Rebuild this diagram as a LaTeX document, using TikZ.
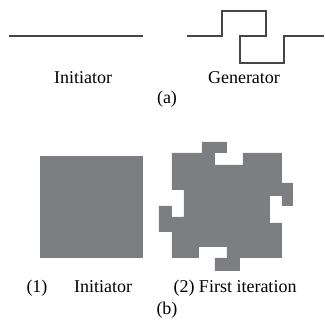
\documentclass[tikz,border=0pt]{standalone}
\usepackage{fontspec}
\setmainfont{Liberation Serif}
\definecolor{fractalgray}{RGB}{125,126,130}
\definecolor{curvegray}{RGB}{70,70,70}
\tikzset{
	lbl/.style={anchor=base, inner sep=0pt, font=\fontsize{18}{20}\selectfont},
	curve/.style={draw=curvegray, line width=1.3pt},
	tile/.style={fill=fractalgray, draw=none}
}
\begin{document}
\begin{tikzpicture}[x=1pt,y=-1pt]
	\useasboundingbox (0,0) rectangle (325,324);
	% (a) initiator and generator
	\coordinate (ileft) at (9,36);
	\coordinate (iright) at (143,36);
	\draw[curve] (ileft) -- (iright);
	
	\coordinate (gleft) at (187,36);
	\coordinate (gright) at (324,36);
	\draw[curve] (gleft) -- (222,36) -- (222,11) -- (266,11) -- (266,36)
		-- (240,36) -- (240,63) -- (284,63) -- (284,36) -- (gright);
	
	\node[lbl] (initA) at (83,83) {Initiator};
	\node[lbl] (gen) at (244,83) {Generator};
	\node[lbl] (a) at (167,103) {(a)};
	
	% (b) square and first iteration
	\fill[tile] (40,156) rectangle (143,258);
	
	\fill[tile] (172,153) -- (202,153) -- (202,142) -- (227,142) -- (227,153)
		-- (215,153) -- (215,165) -- (243,165) -- (243,153) -- (282,153)
		-- (282,183) -- (293,183) -- (293,206) -- (282,206) -- (282,196)
		-- (270,196) -- (270,223) -- (282,223) -- (282,258)
		-- (240,258) -- (240,271) -- (215,271) -- (215,258) -- (227,258)
		-- (227,247) -- (199,247) -- (199,258) -- (172,258)
		-- (172,232) -- (159,232) -- (159,206) -- (172,206) -- (172,217)
		-- (184,217) -- (184,190) -- (172,190) -- cycle;
	
	\node[lbl] (one) at (37,293) {(1)};
	\node[lbl] (initB) at (103,293) {Initiator};
	\node[lbl] (first) at (235,293) {(2) First iteration};
	\node[lbl] (b) at (167,314) {(b)};
\end{tikzpicture}
\end{document}
